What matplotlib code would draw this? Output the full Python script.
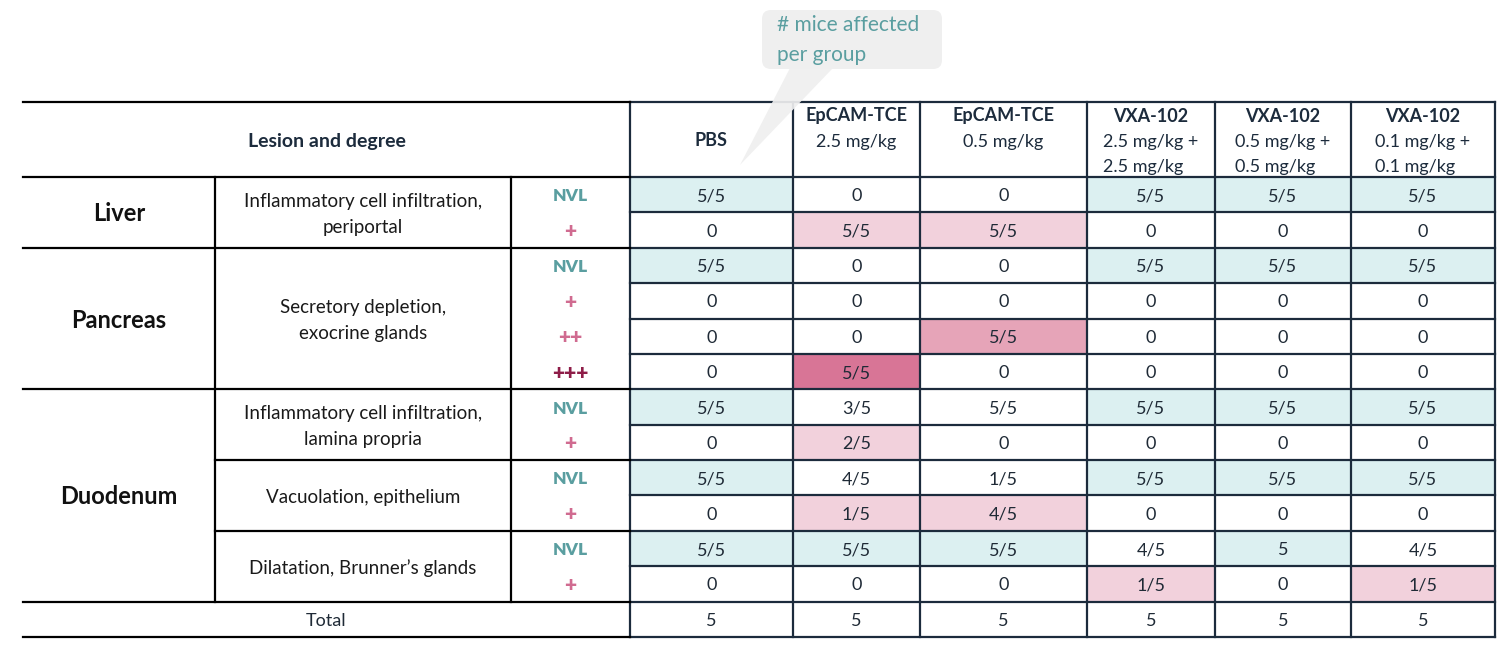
import matplotlib
matplotlib.use("Agg")
import matplotlib.pyplot as plt
from matplotlib.patches import Rectangle, FancyBboxPatch, Polygon

plt.rcParams['font.family'] = ['Lato', 'DejaVu Sans']

# data
groups = ['PBS', 'EpCAM-TCE', 'EpCAM-TCE', 'VXA-102', 'VXA-102', 'VXA-102']
doses = ['', '2.5 mg/kg', '0.5 mg/kg', '2.5 mg/kg +\n2.5 mg/kg',
         '0.5 mg/kg +\n0.5 mg/kg', '0.1 mg/kg +\n0.1 mg/kg']
organs = ['Liver', 'Pancreas', 'Duodenum']
organ_rows = [2, 4, 6]
lesions = ['Inflammatory cell infiltration,\nperiportal',
           'Secretory depletion,\nexocrine glands',
           'Inflammatory cell infiltration,\nlamina propria',
           'Vacuolation, epithelium',
           'Dilatation, Brunner\u2019s glands']
lesion_rows = [2, 4, 2, 2, 2]
degrees = ['NVL', '+', 'NVL', '+', '++', '+++', 'NVL', '+', 'NVL', '+', 'NVL', '+']
values = [
    ['5/5', '0', '0', '5/5', '5/5', '5/5'],
    ['0', '5/5', '5/5', '0', '0', '0'],
    ['5/5', '0', '0', '5/5', '5/5', '5/5'],
    ['0', '0', '0', '0', '0', '0'],
    ['0', '0', '5/5', '0', '0', '0'],
    ['0', '5/5', '0', '0', '0', '0'],
    ['5/5', '3/5', '5/5', '5/5', '5/5', '5/5'],
    ['0', '2/5', '0', '0', '0', '0'],
    ['5/5', '4/5', '1/5', '5/5', '5/5', '5/5'],
    ['0', '1/5', '4/5', '0', '0', '0'],
    ['5/5', '5/5', '5/5', '4/5', '5', '4/5'],
    ['0', '0', '0', '1/5', '0', '1/5'],
]
totals = ['5', '5', '5', '5', '5', '5']
# cell shading: n = no lesion, p1/p2/p3 = lesion grade
shade = [
    ['n', '', '', 'n', 'n', 'n'],
    ['', 'p1', 'p1', '', '', ''],
    ['n', '', '', 'n', 'n', 'n'],
    ['', '', '', '', '', ''],
    ['', '', 'p2', '', '', ''],
    ['', 'p3', '', '', '', ''],
    ['n', '', '', 'n', 'n', 'n'],
    ['', 'p1', '', '', '', ''],
    ['n', '', '', 'n', 'n', 'n'],
    ['', 'p1', 'p1', '', '', ''],
    ['n', 'n', 'n', '', 'n', ''],
    ['', '', '', 'p1', '', 'p1'],
]

# styling
fills = {'n': '#dcf0f1', 'p1': '#f2d1dc', 'p2': '#e6a4b8', 'p3': '#d87596'}
deg_color = {'NVL': '#5a9ea0', '+': '#d06b90', '++': '#d06b90', '+++': '#8e1d48'}
deg_size = {'NVL': 12.5, '+': 15, '++': 15, '+++': 15}
navy = '#1c2b3c'
txt = '#1f2a36'

# layout (pixels)
W, H = 1507, 646
x_left = [23, 215, 511, 630]
x_cols = [630, 793, 920, 1087, 1215, 1351, 1495]
y_head = 102
y_body = 177
row_h = (637 - 177) / 13.0
dy = 1.5  # optical centring of text

fig = plt.figure(figsize=(W / 100, H / 100), dpi=100)
ax = fig.add_axes([0, 0, 1, 1])
ax.set_xlim(0, W)
ax.set_ylim(H, 0)
ax.axis('off')

n_rows = len(values)


def ry(i):
    return y_body + i * row_h


# fills
for i in range(n_rows):
    for j in range(len(groups)):
        s = shade[i][j]
        if s:
            ax.add_patch(Rectangle((x_cols[j], ry(i)), x_cols[j + 1] - x_cols[j], row_h,
                                   facecolor=fills[s], edgecolor='none', zorder=1))

# value texts
fs = 13
for i in range(n_rows):
    yc = ry(i) + row_h / 2 + dy
    for j in range(len(groups)):
        xc = (x_cols[j] + x_cols[j + 1]) / 2
        ax.text(xc, yc, values[i][j], ha='center', va='center', fontsize=fs,
                color=txt, zorder=3)
    d = degrees[i]
    ax.text((x_left[2] + x_left[3]) / 2, yc, d, ha='center', va='center',
            fontsize=deg_size[d], color=deg_color[d], fontweight='heavy', zorder=3)
yc = ry(n_rows) + row_h / 2 + dy
for j in range(len(groups)):
    xc = (x_cols[j] + x_cols[j + 1]) / 2
    ax.text(xc, yc, totals[j], ha='center', va='center', fontsize=fs, color=txt,
            zorder=3)
ax.text((x_left[0] + x_left[3]) / 2, yc, 'Total', ha='center', va='center',
        fontsize=fs, color=txt, zorder=3)

# organ and lesion labels
r = 0
for name, n in zip(organs, organ_rows):
    ax.text((x_left[0] + x_left[1]) / 2, ry(r) + n * row_h / 2 + dy, name, ha='center',
            va='center', fontsize=17, fontweight='bold', color='#111111', zorder=3)
    r += n
r = 0
for name, n in zip(lesions, lesion_rows):
    ax.text((x_left[1] + x_left[2]) / 2, ry(r) + n * row_h / 2 + 2, name, ha='center',
            va='center', fontsize=13.5, color='#1a1a1a', linespacing=1.65, zorder=3)
    r += n

# header
ax.text((x_left[0] + x_left[3]) / 2, 141, 'Lesion and degree', ha='center', va='center',
        fontsize=14, fontweight='bold', color=navy, zorder=3)
for j, (g, d) in enumerate(zip(groups, doses)):
    xc = (x_cols[j] + x_cols[j + 1]) / 2
    if not d:
        ax.text(xc, 141, g, ha='center', va='center', fontsize=13,
                fontweight='bold', color=navy, zorder=3)
        continue
    ax.text(xc, 116, g, ha='center', va='center', fontsize=13,
            fontweight='bold', color=navy, zorder=3)
    ax.text(xc, 133.5, d, ha='center', va='top', multialignment='left', fontsize=fs,
            color=navy, linespacing=1.75, zorder=3)

# grid lines - right part (navy, every row)
lw = 1.6
y_end = ry(n_rows + 1)
for i in range(n_rows + 2):
    ax.plot([x_cols[0], x_cols[-1]], [ry(i), ry(i)], color=navy, lw=lw, zorder=2,
            solid_capstyle='projecting')
ax.plot([x_cols[0], x_cols[-1]], [y_head, y_head], color=navy, lw=lw, zorder=2)
for x in x_cols:
    ax.plot([x, x], [y_head, y_end], color=navy, lw=lw, zorder=2)

# grid lines - left part (black, group boundaries)
for i in [0, 2, 6, 12, 13]:
    ax.plot([x_left[0], x_left[3]], [ry(i), ry(i)], color='black', lw=lw, zorder=2)
ax.plot([x_left[0], x_left[3]], [y_head, y_head], color='black', lw=lw, zorder=2)
for i in [8, 10]:
    ax.plot([x_left[1], x_left[3]], [ry(i), ry(i)], color='black', lw=lw, zorder=2)
for x in x_left[1:3]:
    ax.plot([x, x], [ry(0), ry(12)], color='black', lw=lw, zorder=2)

# callout
bubble = '#efefef'
ax.add_patch(FancyBboxPatch((762, 10), 180, 59, boxstyle='round,pad=0,rounding_size=9',
                            facecolor=bubble, edgecolor='none', zorder=4))
ax.add_patch(Polygon([(790, 68), (833, 68), (740, 165)], closed=True,
                     facecolor=bubble, edgecolor='none', alpha=0.92, zorder=4))
ax.text(777, 40, '# mice affected\nper group', ha='left', va='center', fontsize=15,
        color='#5a9ea0', linespacing=1.65, zorder=5)

fig.savefig('out.png', dpi=100)
